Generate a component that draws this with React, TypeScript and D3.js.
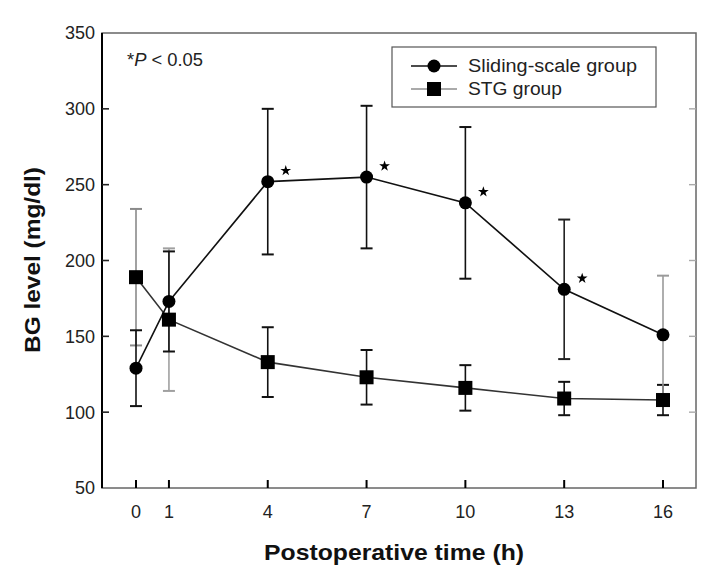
import React from "react";
import * as d3 from "d3";

const times = [0, 1, 4, 7, 10, 13, 16];
const slidingMean = [129, 173, 252, 255, 238, 181, 151];
const slidingSD = [25, 33, 48, 47, 50, 46, 39];
const stgMean = [189, 161, 133, 123, 116, 109, 108];
const stgSD = [45, 47, 23, 18, 15, 11, 10];
const significantTimes = [4, 7, 10, 13];
const yTicks = [50, 100, 150, 200, 250, 300, 350];
const xTicks = [0, 1, 4, 7, 10, 13, 16];

// styling (not data): error bar colours per point
const slidingErrColor = ["#111", "#111", "#111", "#111", "#111", "#222", "#9a9a9a"];
const stgErrColor = ["#8a8a8a", "#a0a0a0", "#111", "#111", "#111", "#111", "#111"];

const W = 724;
const H = 578;
const left = 102, right = 696, top = 33, bottom = 488;

export default function App() {
  const x = d3.scaleLinear().domain([0, 16]).range([136, 663]);
  const y = d3.scaleLinear().domain([50, 350]).range([bottom, top]);
  const line = d3.line<number>().x((_, i) => x(times[i])).y((d) => y(d));
  const star = d3.symbol().type(d3.symbolStar).size(36)() as string;
  const font = "'Liberation Sans', Arial, Helvetica, sans-serif";
  const cap = 6;

  const errBar = (t: number, m: number, sd: number, color: string, key: string) => (
    <g key={key} stroke={color} strokeWidth={1.6}>
      <line x1={x(t)} x2={x(t)} y1={y(m + sd)} y2={y(m - sd)} />
      <line x1={x(t) - cap} x2={x(t) + cap} y1={y(m + sd)} y2={y(m + sd)} strokeWidth={2} />
      <line x1={x(t) - cap} x2={x(t) + cap} y1={y(m - sd)} y2={y(m - sd)} strokeWidth={2} />
    </g>
  );

  return (
    <svg width={W} height={H} style={{ position: "absolute", left: 0, top: 0, background: "#fff" }} fontFamily={font}>
      {/* frame */}
      <rect x={left} y={top} width={right - left} height={bottom - top} fill="none" stroke="#666" strokeWidth={1.5} />
      <line x1={left} x2={left} y1={top} y2={bottom} stroke="#000" strokeWidth={2} />
      {/* y ticks */}
      {yTicks.map((v) => (
        <g key={"yt" + v}>
          {v !== 50 && v !== 350 && (
            <line x1={left} x2={left + 7} y1={y(v)} y2={y(v)} stroke="#222" strokeWidth={1.6} />
          )}
          {v !== 50 && v !== 350 && (
            <line x1={right - 7} x2={right} y1={y(v)} y2={y(v)} stroke="#aaa" strokeWidth={1.4} />
          )}
          <text x={95} y={y(v)} dy="0.36em" textAnchor="end" fontSize={18} fill="#222">
            {v}
          </text>
        </g>
      ))}
      {/* x ticks */}
      {xTicks.map((t) => (
        <g key={"xt" + t}>
          <line x1={x(t)} x2={x(t)} y1={bottom} y2={bottom - 8} stroke="#000" strokeWidth={2} />
          <text x={x(t)} y={518} textAnchor="middle" fontSize={18} fill="#222">
            {t}
          </text>
        </g>
      ))}
      {/* axis titles */}
      <text x={264} y={560} fontSize={22} fontWeight="bold" fill="#111" textLength={260} lengthAdjust="spacingAndGlyphs">
        Postoperative time (h)
      </text>
      <text
        transform={`translate(40, 353) rotate(-90)`}
        fontSize={22}
        fontWeight="bold"
        fill="#111"
        textLength={186}
        lengthAdjust="spacingAndGlyphs"
      >
        BG level (mg/dl)
      </text>
      {/* p-value note */}
      <text x={127} y={66} fontSize={18} fill="#222" textLength={76} lengthAdjust="spacingAndGlyphs">
        *<tspan fontStyle="italic">P</tspan> &lt; 0.05
      </text>

      {/* error bars */}
      {times.map((t, i) => errBar(t, stgMean[i], stgSD[i], stgErrColor[i], "se" + i))}
      {times.map((t, i) => errBar(t, slidingMean[i], slidingSD[i], slidingErrColor[i], "le" + i))}

      {/* lines */}
      <path d={line(stgMean) as string} fill="none" stroke="#333" strokeWidth={1.6} />
      <path d={line(slidingMean) as string} fill="none" stroke="#111" strokeWidth={1.6} />

      {/* markers */}
      {times.map((t, i) => (
        <rect key={"sq" + i} x={x(t) - 7} y={y(stgMean[i]) - 7} width={14} height={14} fill="#000" />
      ))}
      {times.map((t, i) => (
        <circle key={"c" + i} cx={x(t)} cy={y(slidingMean[i])} r={6.5} fill="#000" />
      ))}

      {/* significance stars */}
      {significantTimes.map((t) => {
        const i = times.indexOf(t);
        return (
          <path key={"st" + t} d={star} transform={`translate(${x(t) + 18}, ${y(slidingMean[i]) - 11})`} fill="#000" />
        );
      })}

      {/* legend */}
      <rect x={392} y={47} width={264} height={60} fill="#fff" stroke="#555" strokeWidth={1.2} />
      <line x1={411} x2={457} y1={66} y2={66} stroke="#111" strokeWidth={1.6} />
      <circle cx={434} cy={66} r={6.5} fill="#000" />
      <text x={468} y={72} fontSize={18} fill="#222" textLength={169} lengthAdjust="spacingAndGlyphs">
        Sliding-scale group
      </text>
      <line x1={411} x2={457} y1={89} y2={89} stroke="#aaa" strokeWidth={2} />
      <rect x={427} y={82} width={14} height={14} fill="#000" />
      <text x={468} y={95} fontSize={18} fill="#222" textLength={94} lengthAdjust="spacingAndGlyphs">
        STG group
      </text>
    </svg>
  );
}
